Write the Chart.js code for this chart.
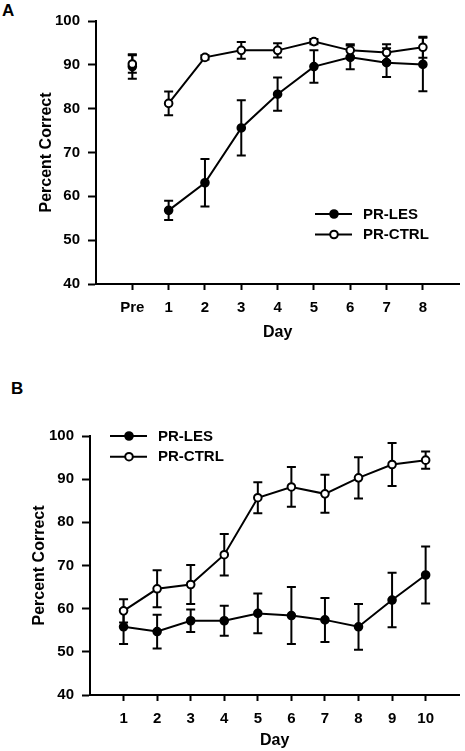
<!DOCTYPE html>
<html>
<head>
<meta charset="utf-8">
<script src="https://cdn.jsdelivr.net/npm/chart.js@4/dist/chart.umd.min.js"></script>
<style>
  html, body { margin: 0; padding: 0; background: #fff; }
  body { width: 465px; height: 751px; position: relative; overflow: hidden; font-family: "Liberation Sans", Arial, sans-serif; }
  .panel-label { position: absolute; font-weight: bold; font-size: 17px; line-height: 17px; color: #000; }
  .box { position: absolute; left: 0; width: 465px; }
</style>
</head>
<body>
<div class="panel-label" style="left:2px; top:2px;">A</div>
<div class="panel-label" style="left:11px; top:380px;">B</div>
<div class="box" style="top:0; height:350px;"><canvas id="chartA"></canvas></div>
<div class="box" style="top:370px; height:381px;"><canvas id="chartB"></canvas></div>
<script>
// ---------- Panel A data ----------
const tickLabelsA = ['Pre', '1', '2', '3', '4', '5', '6', '7', '8'];
const daysA = [1, 2, 3, 4, 5, 6, 7, 8];
const lesA = [56.8, 63.1, 75.6, 83.3, 89.6, 91.7, 90.5, 90.1];
const lesErrA = [2.2, 5.4, 6.3, 3.8, 3.7, 2.7, 3.3, 6.1];
const ctrlA = [81.2, 91.7, 93.3, 93.3, 95.3, 93.3, 92.8, 94.0];
const ctrlErrA = [2.7, 0.5, 1.9, 1.6, 0.6, 1.4, 1.9, 2.4];
const preLes = 89.6;
const preLesErr = 2.8;
const preCtrl = 90.2;
const preCtrlErr = 2.0;

// ---------- Panel B data ----------
const tickLabelsB = ['1', '2', '3', '4', '5', '6', '7', '8', '9', '10'];
const daysB = [1, 2, 3, 4, 5, 6, 7, 8, 9, 10];
const lesB = [55.8, 54.7, 57.2, 57.2, 58.9, 58.4, 57.4, 55.8, 62.0, 67.8];
const lesErrB = [4.0, 3.9, 2.6, 3.5, 4.6, 6.6, 5.1, 5.3, 6.3, 6.6];
const ctrlB = [59.5, 64.6, 65.6, 72.5, 85.7, 88.2, 86.6, 90.3, 93.4, 94.4];
const ctrlErrB = [2.7, 4.3, 4.5, 4.8, 3.6, 4.6, 4.4, 4.8, 5.0, 2.0];

const seriesNames = ['PR-LES', 'PR-CTRL'];

const FONT = '"Liberation Sans", Arial, Helvetica, sans-serif';

function pts(xs, ys) { return xs.map((x, i) => ({ x: x, y: ys[i] })); }

// Error bars drawn just before each dataset so layering matches
const errorBarPlugin = {
  id: 'errorBars',
  beforeDatasetDraw(chart, args) {
    const ds = chart.data.datasets[args.index];
    if (!ds.errors) return;
    const meta = args.meta;
    const ys = chart.scales.y;
    const ctx = chart.ctx;
    ctx.save();
    ctx.strokeStyle = '#000';
    ctx.lineWidth = 2;
    ctx.lineCap = 'butt';
    meta.data.forEach((el, i) => {
      const v = ds.data[i].y;
      const e = ds.errors[i];
      if (v == null || e == null) return;
      const x = el.x;
      const yt = ys.getPixelForValue(v + e);
      const yb = ys.getPixelForValue(v - e);
      const cw = 4.5;
      ctx.beginPath();
      ctx.moveTo(x, yt); ctx.lineTo(x, yb);
      ctx.moveTo(x - cw, yt); ctx.lineTo(x + cw, yt);
      ctx.moveTo(x - cw, yb); ctx.lineTo(x + cw, yb);
      ctx.stroke();
    });
    ctx.restore();
  }
};

// Custom legend: line through marker, then label
const lineLegendPlugin = {
  id: 'lineLegend',
  afterDraw(chart, args, opts) {
    if (!opts || !opts.items) return;
    const ctx = chart.ctx;
    ctx.save();
    opts.items.forEach((it, i) => {
      const y = opts.y + i * opts.gap;
      const x = opts.x;
      ctx.strokeStyle = '#000';
      ctx.lineWidth = 2;
      ctx.beginPath();
      ctx.moveTo(x, y); ctx.lineTo(x + 37, y);
      ctx.stroke();
      ctx.beginPath();
      ctx.arc(x + 19, y, 3.8, 0, Math.PI * 2);
      ctx.fillStyle = it.filled ? '#000' : '#fff';
      ctx.fill();
      ctx.stroke();
      ctx.fillStyle = '#000';
      ctx.font = 'bold 15px ' + FONT;
      ctx.textBaseline = 'middle';
      ctx.textAlign = 'left';
      ctx.fillText(it.label, x + 48, y + 0.5);
    });
    ctx.restore();
  }
};

function baseDataset(label, data, errors, filled, showLine, order) {
  return {
    label: label,
    data: data,
    errors: errors,
    showLine: showLine,
    borderColor: '#000',
    borderWidth: 2,
    backgroundColor: filled ? '#000' : '#fff',
    pointBackgroundColor: filled ? '#000' : '#fff',
    pointBorderColor: '#000',
    pointBorderWidth: 2,
    pointRadius: 3.8,
    pointHoverRadius: 3.8,
    tension: 0,
    order: order
  };
}

function makeOptions(cfg) {
  return {
    responsive: true,
    maintainAspectRatio: false,
    animation: false,
    events: [],
    layout: { padding: cfg.padding },
    plugins: {
      legend: { display: false },
      tooltip: { enabled: false },
      lineLegend: cfg.legend
    },
    scales: {
      x: {
        type: 'linear',
        min: cfg.xmin,
        max: cfg.xmax,
        afterBuildTicks(scale) {
          scale.ticks = cfg.tickPositions.map(v => ({ value: v }));
        },
        afterFit(scale) { scale.height = cfg.xHeight; },
        ticks: {
          autoSkip: false,
          maxRotation: 0,
          padding: cfg.xTickPad,
          color: '#000',
          font: { family: FONT, size: 15, weight: 'bold' },
          callback(value) {
            const i = cfg.tickPositions.indexOf(value);
            return i >= 0 ? cfg.tickLabels[i] : '';
          }
        },
        grid: {
          drawOnChartArea: false,
          drawTicks: true,
          tickLength: 6,
          tickWidth: 2,
          tickColor: '#000'
        },
        border: { display: true, color: '#000', width: 2 },
        title: {
          display: true,
          text: 'Day',
          color: '#000',
          padding: 0,
          font: { family: FONT, size: 16, weight: 'bold' }
        }
      },
      y: {
        min: 40,
        max: 100,
        afterFit(scale) { scale.width = cfg.yWidth; },
        ticks: {
          stepSize: 10,
          padding: 8,
          color: '#000',
          font: { family: FONT, size: 15, weight: 'bold' }
        },
        grid: {
          drawOnChartArea: false,
          drawTicks: true,
          tickLength: 8,
          tickWidth: 2,
          tickColor: '#000'
        },
        border: { display: true, color: '#000', width: 2 },
        title: {
          display: true,
          text: 'Percent Correct',
          color: '#000',
          padding: 0,
          font: { family: FONT, size: 16, weight: 'bold' }
        }
      }
    }
  };
}

// Panel A
new Chart(document.getElementById('chartA'), {
  type: 'scatter',
  data: {
    datasets: [
      baseDataset(seriesNames[1], pts(daysA, ctrlA), ctrlErrA, false, true, 0),
      baseDataset(seriesNames[1], [{ x: 0, y: preCtrl }], [preCtrlErr], false, false, 1),
      baseDataset(seriesNames[0], pts(daysA, lesA), lesErrA, true, true, 2),
      baseDataset(seriesNames[0], [{ x: 0, y: preLes }], [preLesErr], true, false, 3)
    ]
  },
  options: makeOptions({
    padding: { left: 37, right: 5, top: 21, bottom: 8 },
    xmin: -1, xmax: 9,
    tickPositions: [0, 1, 2, 3, 4, 5, 6, 7, 8],
    tickLabels: tickLabelsA,
    xHeight: 58,
    yWidth: 59,
    xTickPad: 9,
    legend: {
      x: 315, y: 214, gap: 20.5,
      items: [{ label: seriesNames[0], filled: true }, { label: seriesNames[1], filled: false }]
    }
  }),
  plugins: [errorBarPlugin, lineLegendPlugin]
});

// Panel B
new Chart(document.getElementById('chartB'), {
  type: 'scatter',
  data: {
    datasets: [
      baseDataset(seriesNames[1], pts(daysB, ctrlB), ctrlErrB, false, true, 0),
      baseDataset(seriesNames[0], pts(daysB, lesB), lesErrB, true, true, 1)
    ]
  },
  options: makeOptions({
    padding: { left: 30, right: 3, top: 66, bottom: 1 },
    xmin: 0, xmax: 11,
    tickPositions: [1, 2, 3, 4, 5, 6, 7, 8, 9, 10],
    tickLabels: tickLabelsB,
    xHeight: 55,
    yWidth: 60,
    xTickPad: 9,
    legend: {
      x: 110, y: 66, gap: 20.7,
      items: [{ label: seriesNames[0], filled: true }, { label: seriesNames[1], filled: false }]
    }
  }),
  plugins: [errorBarPlugin, lineLegendPlugin]
});
</script>
</body>
</html>
